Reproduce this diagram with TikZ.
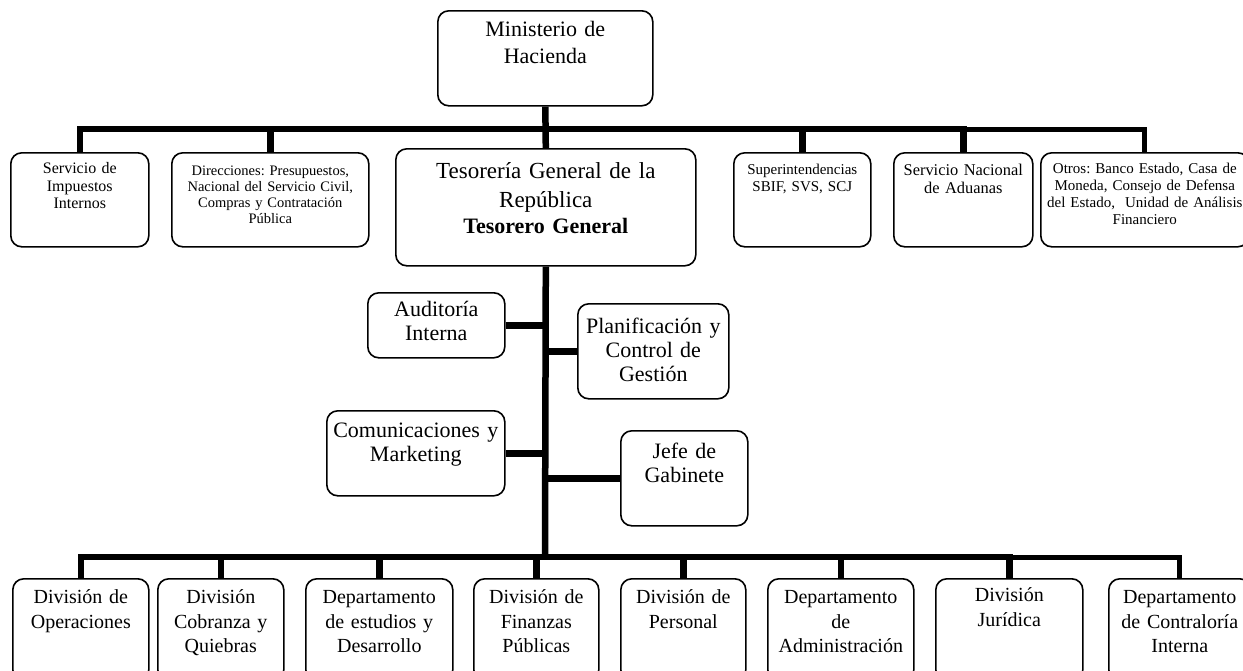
\documentclass[tikz,border=0pt]{standalone}
\usepackage{fontspec}
\setmainfont{Liberation Serif}
\usetikzlibrary{positioning}
\frenchspacing

\begin{document}
\begin{tikzpicture}[x=1pt, y=-1pt]
	\tikzstyle{box}=[draw, line width=1.6pt, rounded corners=11pt, align=center, anchor=north west, inner xsep=3pt, inner ysep=0pt]
	\tikzstyle{bar}=[line width=6.5pt]
	\tikzstyle{barthin}=[line width=5pt]
	\tikzstyle{fbig}=[font=\fontsize{22}{27}\selectfont]
	\tikzstyle{fmid}=[font=\fontsize{22}{24}\selectfont]
	\tikzstyle{fbot}=[font=\fontsize{20}{24.5}\selectfont]
	\tikzstyle{fsma}=[font=\fontsize{15}{17}\selectfont]
	
	\useasboundingbox (0,0) rectangle (1243,670);
	\clip (0,0) rectangle (1243,670);
	
	% top
	\node[box, fbig, text width=209pt, text height=26pt, text depth=69pt] (min) at (437,10) {Ministerio de\\Hacienda};
	\node[box, font=\fontsize{23}{29}\selectfont, text width=294pt, text height=30pt, text depth=87pt] (tgr) at (395,148)
	{Tesorería General de la\\República\\[-3pt]{\bfseries\fontsize{22}{29}\selectfont Tesorero General}};
	
	\node[box, font=\fontsize{16}{17.5}\selectfont, text width=132pt, text height=21pt, text depth=73pt] (sii) at (10,152) {Servicio de\\Impuestos\\Internos};
	\node[box, font=\fontsize{14.5}{16}\selectfont, text width=191pt, text height=23pt, text depth=71pt] (dir) at (171,152) {Direcciones: Presupuestos,\\Nacional del Servicio Civil,\\Compras y Contratación\\Pública};
	\node[box, fsma, text width=131pt, text height=22pt, text depth=72pt] (sup) at (733,152) {Superintendencias\\SBIF, SVS, SCJ};
	\node[box, font=\fontsize{16.4}{17.5}\selectfont, text width=133pt, text height=23pt, text depth=71pt] (adu) at (893,152) {Servicio Nacional\\de Aduanas};
	\node[box, fsma, text width=202pt, text height=21pt, text depth=73pt] (otr) at (1040,152) {Otros: Banco Estado, Casa de\\Moneda, Consejo de Defensa\\del Estado,~ Unidad de Análisis\\Financiero};
	
	% staff
	\node[box, fmid, text width=131pt, text height=24pt, text depth=41pt] (aud) at (367,292) {Auditoría\\Interna};
	\node[box, fmid, text width=145pt, text height=30pt, text depth=65pt] (pla) at (577,303) {Planificación y\\Control de\\Gestión};
	\node[box, fmid, text width=172pt, text height=27pt, text depth=58pt] (com) at (326,410) {Comunicaciones y\\Marketing};
	\node[box, fmid, text width=121pt, text height=28pt, text depth=67pt] (jef) at (620,430) {Jefe de\\Gabinete};
	
	% divisions
	\node[box, fbot, text width=130pt, text height=25pt, text depth=77pt] (d1) at (12,578) {División de\\Operaciones};
	\node[box, fbot, text width=120pt, text height=25pt, text depth=77pt] (d2) at (157,578) {División\\Cobranza y\\Quiebras};
	\node[box, fbot, text width=141pt, text height=25pt, text depth=77pt] (d3) at (305,578) {Departamento\\de estudios y\\Desarrollo};
	\node[box, fbot, text width=119pt, text height=25pt, text depth=77pt] (d4) at (473,578) {División de\\Finanzas\\Públicas};
	\node[box, fbot, text width=119pt, text height=25pt, text depth=77pt] (d5) at (620,578) {División de\\Personal};
	\node[box, fbot, text width=140pt, text height=25pt, text depth=77pt] (d6) at (767,578) {Departamento\\de\\Administración};
	\node[box, fbot, text width=141pt, text height=23pt, text depth=79pt] (d7) at (935,578) {División\\Jurídica};
	\node[box, fbot, text width=136pt, text height=25pt, text depth=77pt] (d8) at (1108,578) {Departamento\\de Contraloría\\Interna};
	
	\coordinate (tb) at (545,129);
	\coordinate (bb) at (545,557);
	
	\draw[bar] (min.south) -- (tgr.north);
	\draw[bar] (sii.north) |- (tb) -| (adu.north);
	\draw[bar] (dir.north) -- (dir.north |- tb);
	\draw[bar] (sup.north) -- (sup.north |- tb);
	\draw[barthin] (adu.north |- tb) -| (otr.north);
	
	\draw[bar] (tgr.south) -- (bb);
	\draw[bar] (aud.east) -- (aud.east -| bb);
	\draw[bar] (pla.west) -- (pla.west -| bb);
	\draw[bar] (com.east) -- (com.east -| bb);
	\draw[bar] (jef.west) -- (jef.west -| bb);
	
	\draw[bar] (d1.north) |- (bb) -| (d7.north);
	\draw[bar] (d2.north) -- (d2.north |- bb);
	\draw[bar] (d3.north) -- (d3.north |- bb);
	\draw[bar] (d4.north) -- (d4.north |- bb);
	\draw[bar] (d5.north) -- (d5.north |- bb);
	\draw[bar] (d6.north) -- (d6.north |- bb);
	\draw[barthin] (d7.north |- bb) -| (d8.north);
\end{tikzpicture}
\end{document}
